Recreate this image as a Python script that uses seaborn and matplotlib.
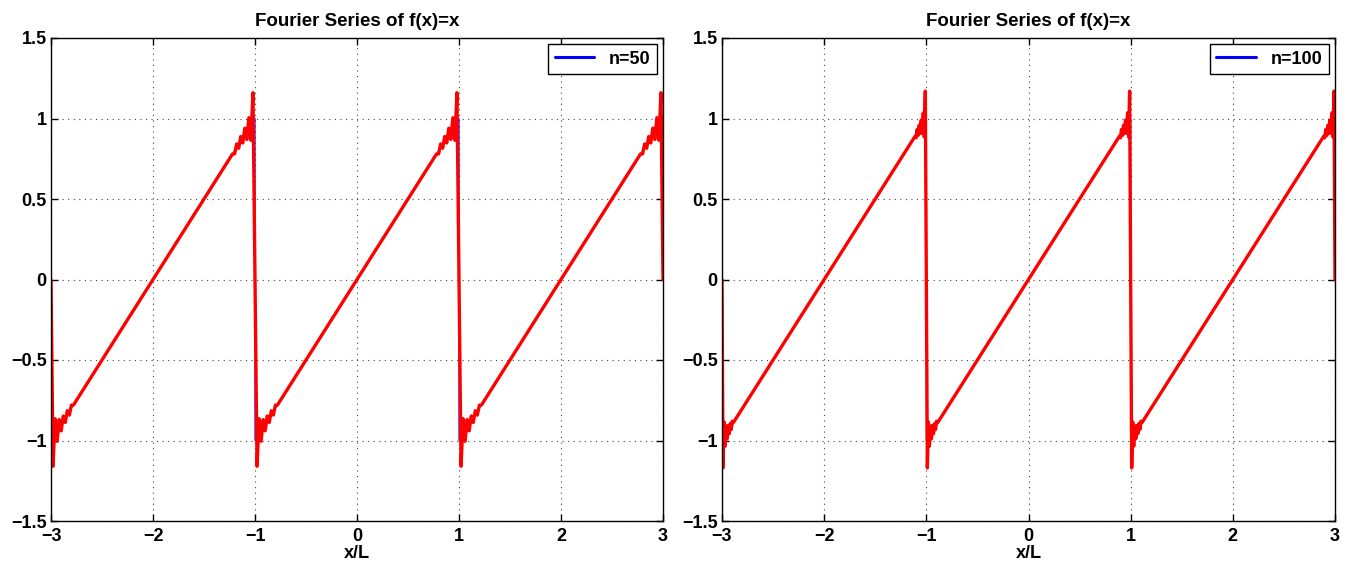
import numpy as np
import pandas as pd
import matplotlib
matplotlib.use("Agg")
import matplotlib.pyplot as plt
import seaborn as sns

# one period of each partial sum (x/L relative to the centre of a ramp),
# values read off the picture incl. the Gibbs ripples at the jumps
ramp50_x = [-1.00, -0.98, -0.96, -0.94, -0.92, -0.90, -0.88, -0.86, -0.84, -0.82, -0.80, -0.78,
            0.78, 0.80, 0.82, 0.84, 0.86, 0.88, 0.90, 0.92, 0.94, 0.96, 0.98, 1.00]
ramp50_y = [0.0, -1.16, -0.865, -1.005, -0.87, -0.94, -0.848, -0.888, -0.815, -0.842, -0.78, -0.78,
            0.78, 0.78, 0.842, 0.815, 0.888, 0.848, 0.94, 0.87, 1.005, 0.865, 1.16, 0.0]

ramp100_x = [-1.00, -0.99, -0.98, -0.97, -0.96, -0.95, -0.94, -0.93, -0.92, -0.91, -0.90, -0.89,
             0.89, 0.90, 0.91, 0.92, 0.93, 0.94, 0.95, 0.96, 0.97, 0.98, 0.99, 1.00]
ramp100_y = [0.0, -1.17, -0.885, -1.035, -0.91, -0.99, -0.907, -0.958, -0.895, -0.932, -0.88, -0.89,
             0.89, 0.88, 0.932, 0.895, 0.958, 0.907, 0.99, 0.91, 1.035, 0.885, 1.17, 0.0]

period_centres = [-2, 0, 2]

# exact sawtooth f(x)=x, drawn in blue under the series
saw_x = [-3, -1, -1, 1, 1, 3]
saw_y = [-1, 1, -1, 1, -1, 1]

panel_labels = ["n=50", "n=100"]
x_ticks = [-3, -2, -1, 0, 1, 2, 3]
y_ticks = [-1.5, -1, -0.5, 0, 0.5, 1, 1.5]


def tile(rx, ry):
    xs, ys = [], []
    for c in period_centres:
        xs += [c + v for v in rx]
        ys += list(ry)
    return pd.DataFrame({"x": xs, "y": ys})


sns.set_style("white")
plt.rcParams["font.family"] = ["Liberation Sans", "DejaVu Sans"]
plt.rcParams["font.weight"] = "bold"
for key in ["text.color", "axes.labelcolor", "xtick.color", "ytick.color"]:
    plt.rcParams[key] = "black"

fig = plt.figure(figsize=(13.55, 5.71), dpi=100)
ax1 = fig.add_axes([51 / 1355, 1 - 521 / 571, 612 / 1355, 483 / 571])
ax2 = fig.add_axes([722 / 1355, 1 - 521 / 571, 613 / 1355, 483 / 571])

saw = pd.DataFrame({"x": saw_x, "y": saw_y})
series = [tile(ramp50_x, ramp50_y), tile(ramp100_x, ramp100_y)]

for ax, df, lab in zip([ax1, ax2], series, panel_labels):
    sns.lineplot(data=saw, x="x", y="y", ax=ax, color="blue", lw=0.8,
                 sort=False, estimator=None, label=lab)
    sns.lineplot(data=df, x="x", y="y", ax=ax, color="red", lw=2.4,
                 sort=False, estimator=None)
    ax.set_xlim(-3, 3)
    ax.set_ylim(-1.5, 1.5)
    ax.set_xticks(x_ticks)
    ax.set_yticks(y_ticks)
    ax.set_xticklabels(["\u2212" + str(abs(t)) if t < 0 else str(t) for t in x_ticks])
    ax.set_yticklabels([("\u2212" if t < 0 else "") + f"{abs(t):g}" for t in y_ticks])
    ax.tick_params(direction="in", length=5, width=1, labelsize=13, colors="black",
                   top=True, right=True, bottom=True, left=True)
    ax.tick_params(axis="x", pad=5)
    ax.tick_params(axis="y", pad=3)
    for lbl in ax.get_xticklabels() + ax.get_yticklabels():
        lbl.set_fontweight("bold")
    ax.grid(True, linestyle=(0, (1, 4)), color="#444444", lw=0.8)
    for s in ax.spines.values():
        s.set_visible(True)
        s.set_color("black")
        s.set_linewidth(1)
    ax.set_xlabel("x/L", fontsize=13, fontweight="bold", labelpad=0, color="black")
    ax.set_ylabel("")
    ax.set_title("Fourier Series of f(x)=x", fontsize=13.5, fontweight="bold",
                 pad=9, color="black")
    leg = ax.legend(loc="upper right", fancybox=False, framealpha=1,
                    edgecolor="black", prop={"weight": "bold", "size": 13},
                    handlelength=2.2, borderaxespad=0.35, borderpad=0.35)
    leg.get_frame().set_linewidth(1)
    for t in leg.get_texts():
        t.set_color("black")
    for h in leg.get_lines():
        h.set_linewidth(2.2)

fig.savefig("out.png", dpi=100, facecolor="white")
